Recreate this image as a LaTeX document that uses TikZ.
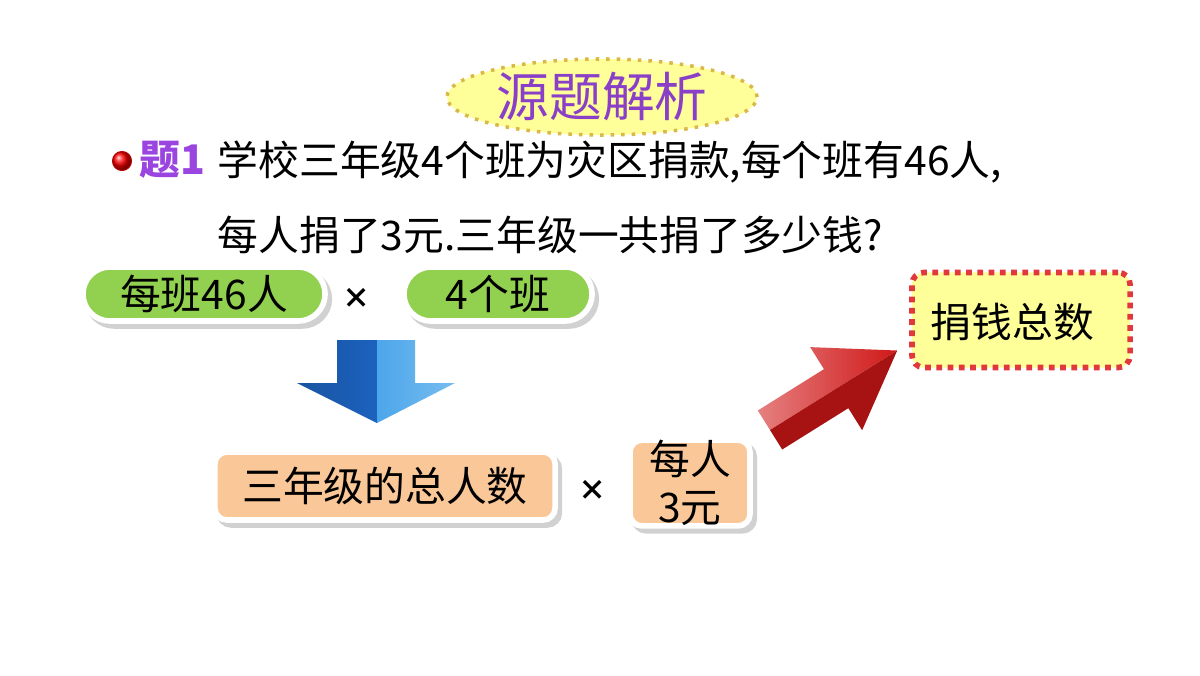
\documentclass[tikz,border=0pt]{standalone}
\usepackage{fontspec}
\newfontfamily\cjk{Noto Sans CJK SC}
\usetikzlibrary{calc,shapes.geometric,shadings}
\definecolor{titlepurple}{HTML}{8A3FC8}
\definecolor{qpurple}{HTML}{9A45E0}
\definecolor{ovalyellow}{HTML}{FFFF99}
\definecolor{ovalgold}{HTML}{D9B84A}
\definecolor{pillgreen}{HTML}{92D050}
\definecolor{boxpeach}{HTML}{FAC898}
\definecolor{dotred}{HTML}{E0383C}
\definecolor{arrowblue}{HTML}{1C62BE}
\definecolor{arrowblueL}{HTML}{4CA6EA}
\definecolor{arrowred}{HTML}{D01818}

\begin{document}
\begin{tikzpicture}[x=0.01cm, y=-0.01cm,
  txt/.style={font=\cjk\fontsize{11.6}{13.7}\selectfont, inner sep=0pt},
  pill/.style={txt, fill=pillgreen, draw=white, line width=1.6pt,
    rounded corners=0.27cm, minimum height=0.54cm,
    preaction={draw=black!18, fill=black!18, line width=1.6pt,
      transform canvas={shift={(1.2pt,-1.4pt)}}}},
  peachbox/.style={pill, fill=boxpeach, rounded corners=0.12cm},
  timesign/.style={font=\cjk\bfseries\fontsize{8}{8}\selectfont, inner sep=0pt}
]
\useasboundingbox[fill=white] (0,0) rectangle (1200,675);
% ── Title and question ──────────────────────────
\node[ellipse, fill=ovalyellow, draw=ovalgold, dotted, line width=1pt,
  minimum width=3.1cm, minimum height=0.76cm, inner sep=0pt,
  font=\cjk\fontsize{15}{15}\selectfont, text=titlepurple] (title) at (602,97) {源题解析};
\node[circle, ball color=red, draw=red!70!black, line width=0.3pt,
  minimum size=0.19cm, inner sep=0pt] (dot) at (122,161) {};
\node[txt, anchor=west, text=qpurple, font=\cjk\bfseries\fontsize{11.6}{13.7}\selectfont]
  (qlabel) at (139,160) {题1};
\node[txt, anchor=west] (line1) at (217,162) {学校三年级4个班为灾区捐款,每个班有46人,};
\node[txt, anchor=west] (line2) at (217,235) {每人捐了3元.三年级一共捐了多少钱?};
% ── First product ───────────────────────────────
\node[pill, minimum width=2.42cm] (perclass) at (204,294) {每班46人};
\node[timesign] (times1) at (357,298) {×};
\node[pill, minimum width=1.88cm] (classes) at (498,294) {4个班};
% Blue down arrow
\shade[left color=arrowblue!85!black, right color=arrowblue]
  (337,340) -- (377,340) -- (377,423) -- (297,383) -- (337,383) -- cycle;
\shade[left color=arrowblueL, right color=arrowblueL!75!white]
  (377,340) -- (415,340) -- (415,383) -- (455,383) -- (377,423) -- cycle;
% ── Second product ──────────────────────────────
\node[peachbox, minimum width=3.4cm, minimum height=0.68cm] (total) at (385,486) {三年级的总人数};
\node[timesign] (times2) at (593,490) {×};
\node[peachbox, minimum width=1.2cm, minimum height=0.85cm, align=center] (each) at (690,483) {每人\\3元};
% Red arrow
\begin{scope}[shift={(770,430)}, rotate=32]
  \shade[left color=arrowred!55!white, right color=arrowred]
    (0,0) -- (0,-23) -- (78,-23) -- (78,-49) -- (150,0) -- cycle;
  \fill[arrowred!80!black]
    (0,0) -- (0,23) -- (78,23) -- (78,49) -- (150,0) -- cycle;
\end{scope}
% ── Result ──────────────────────────────────────
\node[fill=ovalyellow, draw=dotred, line width=1.6pt, dash pattern=on 1.6pt off 1.6pt,
  rounded corners=0.12cm, minimum width=2.18cm, minimum height=0.95cm] (result) at (1021,320) {};
\node[txt, anchor=west] (sum) at (930,322) {捐钱总数};
\end{tikzpicture}
\end{document}
